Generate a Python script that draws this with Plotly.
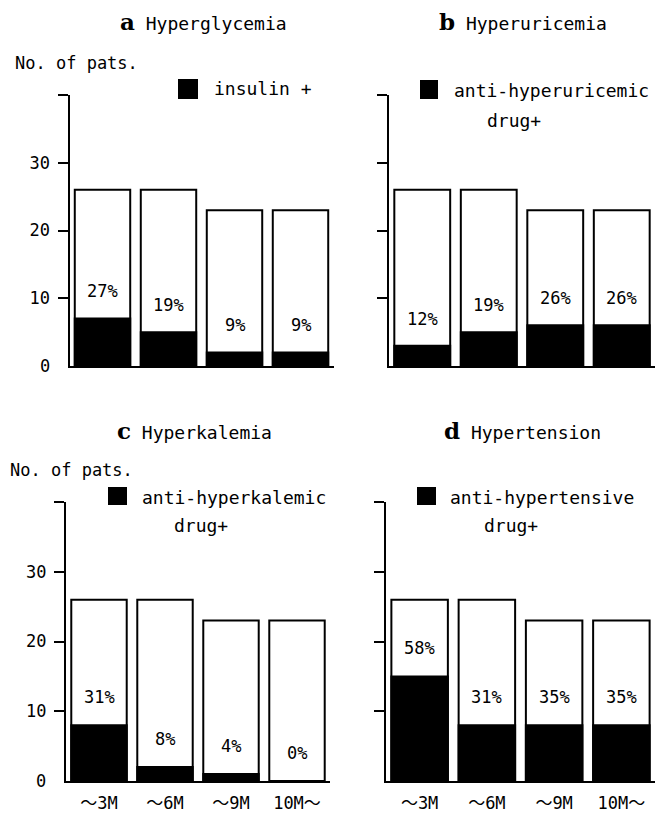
import plotly.graph_objects as go

# ---------------- data ----------------
categories = ["～3M", "～6M", "～9M", "10M～"]
totals = [26, 26, 23, 23]
treated_a = [7, 5, 2, 2]
treated_b = [3, 5, 6, 6]
treated_c = [8, 2, 1, 0]
treated_d = [15, 8, 8, 8]
pct_a = ["27%", "19%", "9%", "9%"]
pct_b = ["12%", "19%", "26%", "26%"]
pct_c = ["31%", "8%", "4%", "0%"]
pct_d = ["58%", "31%", "35%", "35%"]
titles = ["a", "b", "c", "d"]
title_names = ["Hyperglycemia", "Hyperuricemia", "Hyperkalemia", "Hypertension"]
legend_lines = [["insulin +"], ["anti-hyperuricemic", "drug+"],
                ["anti-hyperkalemic", "drug+"], ["anti-hypertensive", "drug+"]]
y_ticks = [10, 20, 30, 40]
y_ticktext = ["10", "20", "30", ""]

W, H = 655, 813
def fx(p):
    return p / W
def fy(p):
    return 1 - p / H

MONO = "DejaVu Sans Mono, Noto Sans CJK JP"
SERIF = "DejaVu Serif"

panels = [
    dict(treated=treated_a, pct=pct_a, xd=[69.5, 333.5], yd=[366, 95], left=True, bottom=False,
         title_x=118, title_y=22, sq=(178, 79, 198, 99), lx=[212], ly=[89], lab0=(52, None)),
    dict(treated=treated_b, pct=pct_b, xd=[389, 655], yd=[366, 95], left=False, bottom=False,
         title_x=437, title_y=22, sq=(420, 80, 438, 99), lx=[452, 485], ly=[90, 120], lab0=None),
    dict(treated=treated_c, pct=pct_c, xd=[66, 330], yd=[781, 502], left=True, bottom=True,
         title_x=115, title_y=430, sq=(108, 487, 127, 505), lx=[140, 172], ly=[497, 525], lab0=(48, None)),
    dict(treated=treated_d, pct=pct_d, xd=[386, 655], yd=[781, 502], left=False, bottom=True,
         title_x=442, title_y=430, sq=(417, 487, 436, 505), lx=[448, 482], ly=[497, 525], lab0=None),
]

fig = go.Figure()
annotations = []
shapes = []
layout = {}

for i, p in enumerate(panels):
    n = "" if i == 0 else str(i + 1)
    xa, ya = "x" + n, "y" + n
    fig.add_trace(go.Bar(x=categories, y=totals, xaxis=xa, yaxis=ya, width=0.84,
                         marker=dict(color="white", line=dict(color="black", width=2)),
                         showlegend=False, hoverinfo="skip"))
    fig.add_trace(go.Bar(x=categories, y=p["treated"], xaxis=xa, yaxis=ya, width=0.84,
                         marker=dict(color="black", line=dict(color="black", width=2)),
                         showlegend=False, hoverinfo="skip"))
    layout["xaxis" + n] = dict(
        domain=[fx(p["xd"][0]), fx(p["xd"][1])], anchor=ya, type="category",
        range=[-0.5, 3.5], showline=True, linecolor="black", linewidth=2,
        showgrid=False, zeroline=False, ticks="", showticklabels=p["bottom"],
        tickfont=dict(family=MONO, size=17, color="black"), ticklabelstandoff=6,
    )
    layout["yaxis" + n] = dict(
        domain=[fy(p["yd"][0]), fy(p["yd"][1])], anchor=xa, range=[0, 40],
        showline=True, linecolor="black", linewidth=2, showgrid=False, zeroline=False,
        tickvals=y_ticks, ticktext=y_ticktext if p["left"] else [""] * 4,
        ticks="outside", ticklen=10, tickwidth=1.5, tickcolor="black",
        tickfont=dict(family=MONO, size=17, color="black"), ticklabelstandoff=4,
    )
    # percentages
    for c, t, s in zip(categories, p["treated"], p["pct"]):
        annotations.append(dict(x=c, y=t + 4, xref=xa, yref=ya, text=s, showarrow=False,
                                font=dict(family=MONO, size=17, color="black")))
    # title
    annotations.append(dict(
        x=fx(p["title_x"]), y=fy(p["title_y"]), xref="paper", yref="paper",
        xanchor="left", yanchor="middle", showarrow=False,
        text="<span style='font-family:%s;font-size:23px'><b>%s</b></span> %s" % (SERIF, titles[i], title_names[i]),
        font=dict(family=MONO, size=18, color="black")))
    # legend square + text
    x0, y0, x1, y1 = p["sq"]
    shapes.append(dict(type="rect", xref="paper", yref="paper", x0=fx(x0), x1=fx(x1),
                       y0=fy(y1), y1=fy(y0), fillcolor="black", line=dict(width=0)))
    for txt, lx, ly in zip(legend_lines[i], p["lx"], p["ly"]):
        annotations.append(dict(x=fx(lx), y=fy(ly), xref="paper", yref="paper",
                                xanchor="left", yanchor="middle", showarrow=False, text=txt,
                                font=dict(family=MONO, size=18, color="black")))
    # zero label
    if p["lab0"]:
        annotations.append(dict(x=fx(p["lab0"][0]), y=0, xref="paper", yref=ya,
                                xanchor="right", yanchor="middle", showarrow=False, text="0",
                                font=dict(family=MONO, size=17, color="black")))

# y-axis captions
for (cx, cy) in [(13, 63), (8, 470)]:
    annotations.append(dict(x=fx(cx), y=fy(cy), xref="paper", yref="paper",
                            xanchor="left", yanchor="middle", showarrow=False,
                            text="No. of pats.", font=dict(family=MONO, size=17, color="black")))

fig.update_layout(
    width=W, height=H, margin=dict(l=0, r=0, t=0, b=0),
    paper_bgcolor="white", plot_bgcolor="white", barmode="overlay",
    annotations=annotations, shapes=shapes, **layout,
)
fig.write_html("out.html", config={"displayModeBar": False},
               post_script="document.body.style.margin='0';document.body.style.overflow='hidden';")
